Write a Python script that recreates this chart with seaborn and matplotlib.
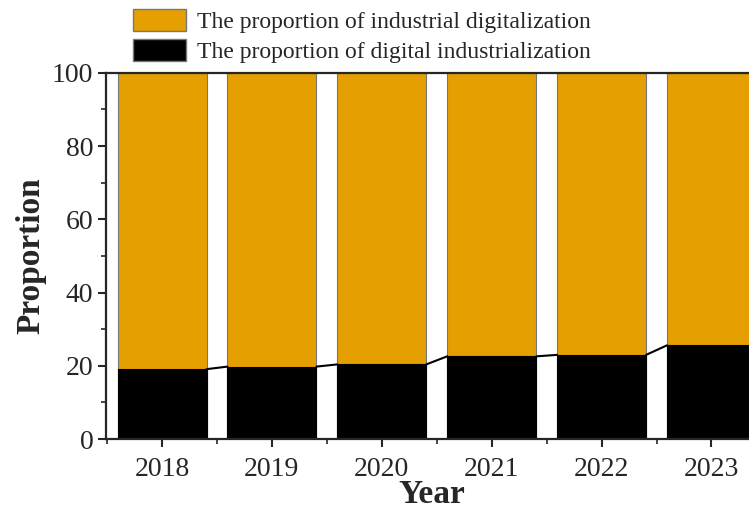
import seaborn as sns
import pandas as pd
import matplotlib.pyplot as plt
from matplotlib.patches import Patch
from matplotlib.ticker import MultipleLocator

years = ["2018", "2019", "2020", "2021", "2022", "2023"]
digital_industrialization = [19.1, 19.8, 20.4, 22.6, 23.0, 25.6]
industrial_digitalization = [100 - v for v in digital_industrialization]

df = pd.DataFrame({"Year": years,
                   "digital": digital_industrialization,
                   "industrial": industrial_digitalization})
df["total"] = df["digital"] + df["industrial"]

sns.set_style("ticks")
plt.rcParams['font.family'] = ['Liberation Serif', 'DejaVu Serif']

orange = "#E69F00"
width = 0.81

fig = plt.figure(figsize=(7.49, 5.13), dpi=100)
ax = fig.add_axes([0.1415, 0.144, 0.87, 0.714])

sns.barplot(data=df, x="Year", y="total", color=orange, width=width,
            edgecolor="#777777", linewidth=0.8, saturation=1, ax=ax)
sns.barplot(data=df, x="Year", y="digital", color="black", width=width,
            edgecolor="black", linewidth=0.8, saturation=1, ax=ax)

# connect the tops of the black segments
for i in range(len(years) - 1):
    ax.plot([i + width / 2, i + 1 - width / 2],
            [digital_industrialization[i], digital_industrialization[i + 1]],
            color="black", lw=1.5)

ax.set_ylim(0, 100)
ax.set_xlim(-0.51, 5.42)
ax.yaxis.set_major_locator(MultipleLocator(20))
ax.yaxis.set_minor_locator(MultipleLocator(10))
ax.set_xticks(range(len(years)))
ax.set_xticks([i + 0.5 for i in range(len(years) - 1)] + [-0.5], minor=True)
ax.tick_params(axis="both", which="major", direction="out", length=6, width=1.5,
               labelsize=20, pad=3)
ax.tick_params(axis="x", which="major", pad=7)
ax.tick_params(axis="both", which="minor", direction="out", length=3.5, width=1.2)

ax.set_xlabel("Year", fontsize=24, fontweight="bold", labelpad=-2.5)
ax.set_ylabel("Proportion", fontsize=24, fontweight="bold", labelpad=4)

for s in ["left", "bottom", "top"]:
    ax.spines[s].set_linewidth(1.6)
ax.spines["right"].set_visible(False)

handles = [Patch(facecolor=orange, edgecolor="#777777", label="The proportion of industrial digitalization"),
           Patch(facecolor="black", edgecolor="#777777", label="The proportion of digital industrialization")]
fig.legend(handles=handles, loc="upper left", bbox_to_anchor=(133 / 749, 1 - 9 / 513), frameon=False,
           fontsize=17, handlelength=2.25, handleheight=1.06, handletextpad=0.45,
           labelspacing=0.25, borderaxespad=0, borderpad=0)

fig.savefig("out.png", dpi=100)
